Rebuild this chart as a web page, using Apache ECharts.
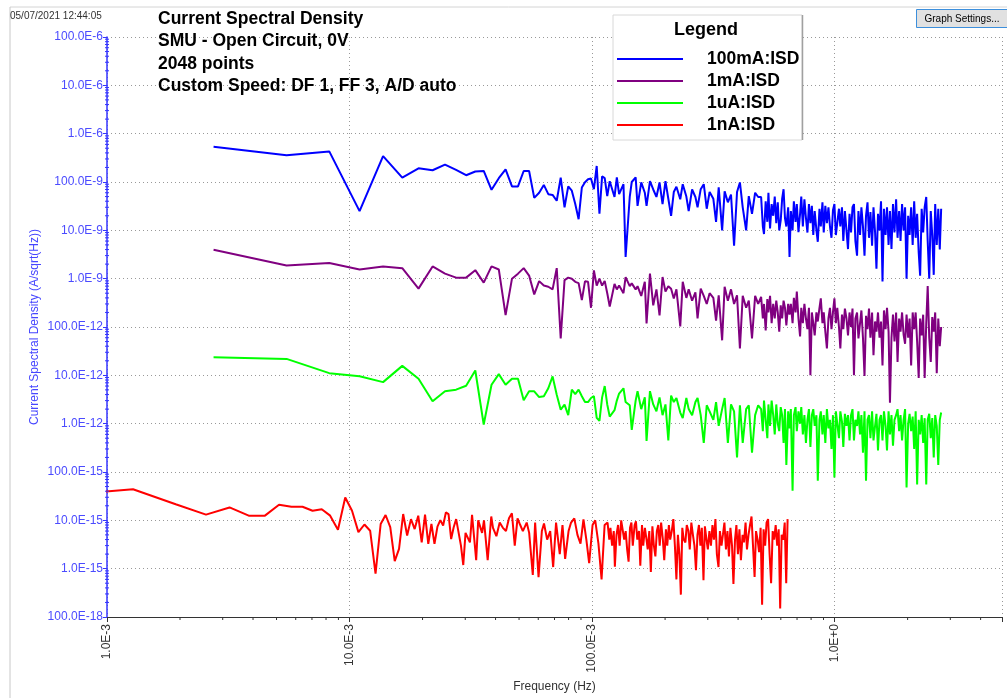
<!DOCTYPE html>
<html>
<head>
<meta charset="utf-8">
<title>Current Spectral Density</title>
<script src="https://cdn.jsdelivr.net/npm/echarts@6/dist/echarts.min.js"></script>
<style>
  html, body { margin: 0; padding: 0; background: #fff; }
  #chart { width: 1007px; height: 698px; }
</style>
</head>
<body>
<div id="chart"></div>
<script>
// FFT bin indices (shared by all four traces)
const bins = [
  1, 2, 3, 4, 5, 6, 7, 8, 9, 10, 11, 12, 13, 14, 15, 16, 17, 18, 19, 20,
  21, 22, 23, 24, 25, 26, 27, 28, 29, 30, 31, 32, 33, 34, 35, 36, 37, 38, 39, 40, 41,
  42, 43, 45, 46, 47, 49, 50, 52, 53, 55, 56, 58, 60, 61, 63, 65, 67, 69, 71, 73,
  75, 77, 79, 81, 84, 86, 89, 91, 94, 97, 99, 102, 105, 108, 111, 115, 118, 121, 125,
  128, 132, 136, 140, 144, 148, 152, 157, 161, 166, 171, 176,
  181, 184, 186, 189, 192, 194, 197, 200, 203, 206, 209, 212, 215, 218, 221, 224, 227, 230, 234, 237,
  240, 244, 247, 251, 254, 258, 262, 265, 269, 273, 277, 281, 285, 289, 293, 297, 301, 306, 310, 315,
  319, 324, 328, 333, 338, 343, 348, 353, 358, 363, 368, 373, 379, 384, 390, 395, 401, 407, 413, 419,
  425, 431, 437, 443, 450, 456, 463, 469, 476, 483, 490, 497, 504, 511, 519, 526, 534, 541, 549, 557,
  565, 573, 581, 590, 598, 607, 615, 624, 633, 642, 652, 661, 671, 680, 690, 700, 710, 720, 731, 741,
  752, 763, 774, 785, 796, 808, 819, 831, 843, 855, 868, 880, 893, 906, 919, 932, 945, 959, 973, 987,
  1000
];
const dfHigh = 2.75e-3;   // Hz per bin, 100mA / 1mA / 1uA ranges
const dfLow = 0.64e-3;    // Hz per bin, 1nA range

// 100mA:ISD in nA/sqrt(Hz)
const isd100mA = [
  537, 356, 430, 25, 344, 123, 192, 175, 229, 178, 138, 165, 169, 69, 120, 182, 81, 81, 169, 169,
  47, 60, 87, 56, 54, 41, 123, 30, 81, 66, 35, 17, 77, 99, 114, 118, 71, 215,
  22, 131, 120, 51, 104, 49, 125, 56, 90, 2.8, 49, 100, 125, 32, 98, 60, 32, 104, 70, 49,
  98, 35, 104, 45, 20, 62, 80, 44, 90, 50, 25, 70, 49, 30, 71, 90, 28, 62, 45, 15,
  78, 10, 64, 38, 55, 4.8, 62, 98, 30, 10, 51, 22, 60, 49,
  49, 12, 8.4, 40, 15, 60, 11, 35, 20, 50, 14, 38, 10, 16, 45, 71, 18, 12, 30, 2.8,
  25, 10, 40, 15, 35, 9.2, 22, 50, 12, 44, 18, 9, 35, 14, 32, 8, 25, 10, 5.8, 28,
  12, 38, 9, 32, 14, 30, 12, 7, 26, 35, 8, 7.7, 28, 12, 30, 6, 25, 10, 4.1, 22,
  9, 30, 35, 6, 3.0, 25, 8, 30, 12, 3.0, 20, 38, 7, 24, 4.8, 30, 9, 1.6, 22, 10,
  40, 0.87, 28, 8, 30, 5, 25, 4.1, 35, 9, 44, 7, 25, 6, 35, 10, 30, 1.0, 20, 8,
  30, 5, 40, 7, 22, 3.5, 1.15, 28, 9, 30, 49, 6, 1.0, 25, 8, 1.2, 35, 5, 28, 4,
  28
];
// 1mA:ISD in pA/sqrt(Hz)
const isd1mA = [
  3950, 1870, 2100, 1550, 1790, 1650, 622, 1790, 1270, 1050, 1050, 1500, 828, 1800, 1550, 176,
  1000, 1270, 1650, 1160, 473, 890, 720, 680, 600, 1650, 58, 930, 1050, 1000, 860, 810, 360,
  880, 860, 250, 1480, 720,
  1000, 720, 900, 500, 265, 780, 600, 720, 500, 1080, 700, 800, 600, 700, 440, 860, 118, 1270, 280, 600,
  173, 1080, 540, 700, 620, 390, 600, 103, 860, 400, 600, 350, 520, 150, 620, 440, 300, 500, 400, 136,
  450, 53, 680, 350, 600, 300, 450, 36, 440, 250, 350, 58, 440, 300,
  420, 150, 300, 85, 380, 200, 440, 120, 300, 150, 350, 200, 80, 280, 150, 350, 250, 108, 300, 180,
  300, 120, 400, 200, 540, 150, 64, 250, 120, 300, 150, 90, 250, 10, 200, 120, 67, 200, 130, 250,
  390, 120, 200, 80, 36, 150, 250, 90, 200, 390, 120, 250, 100, 36, 180, 90, 240, 150, 67, 200,
  100, 240, 10, 150, 200, 58, 120, 220, 60, 9.7, 170, 90, 240, 60, 200, 26, 130, 80, 200, 60,
  130, 16, 220, 90, 250, 80, 2.7, 60, 180, 50, 200, 19, 150, 80, 200, 70, 45, 180, 60, 150,
  16, 200, 90, 200, 50, 8.8, 150, 67, 180, 8.8, 120, 700, 60, 19, 160, 80, 200, 11, 150, 40,
  100
];
// 1uA:ISD in fA/sqrt(Hz)
const isd1uA = [
  23700, 21900, 11100, 9600, 7240, 15700, 8500, 2900, 4670, 5050, 6100, 12600, 960, 6400, 10600,
  6400, 8500, 8500, 3040, 4670, 4670, 3550, 3700, 5400, 9500, 3950, 1950, 2480, 1500, 5050,
  4100, 5050, 3700, 2800, 2800, 3400, 3700, 1320,
  1140, 3500, 6000, 2500, 1400, 1900, 3000, 4200, 5400, 2800, 2400, 740, 3000, 4700, 2000, 3500,
  440, 4700, 2500, 1800, 3500, 1500, 2500, 450, 3800, 2800, 3400, 1700, 1300, 3400,
  2000, 1500, 2800, 3400, 1500, 400, 2400, 1800, 1200, 2800, 900, 2000, 3400, 400, 2500, 1800,
  200, 2400, 400, 2000, 2400, 250, 1500, 2400,
  2000, 700, 3000, 1200, 500, 2500, 900, 3000, 1500, 600, 2500, 1000, 700, 2200, 1500, 400, 2000, 140, 1800, 800,
  2000, 41, 1500, 2200, 700, 1800, 1000, 2200, 600, 1500, 400, 1200, 2000, 330, 1500, 2000, 900, 1500, 66, 1200,
  1800, 600, 1500, 400, 2000, 800, 1200, 300, 1500, 77, 1800, 1000, 500, 1800, 1100, 330, 1600, 900, 1500, 450,
  1500, 2000, 450, 1200, 900, 1800, 600, 1500, 250, 1800, 66, 1200, 1500, 500, 1800, 450, 900, 1600, 280, 1200,
  1500, 450, 1800, 900, 280, 1800, 600, 1500, 350, 1200, 1500, 2000, 700, 1500, 450, 1200, 2000, 48, 1000, 1600,
  700, 1400, 300, 1800, 55, 1200, 600, 1500, 400, 1300, 55, 1200, 1600, 500, 1300, 200, 1500, 900, 140, 1200,
  1700
];
// 1nA:ISD in fA/sqrt(Hz)
const isd1nA = [
  33, 44, 21.5, 13.1, 18.5, 12.5, 12.5, 21, 19.1, 19.1, 15.8, 17, 12.5, 6.4, 29.7, 15.8, 5.7, 8.2, 6.1, 0.79,
  8.4, 12.9, 7.2, 1.43, 2.57, 13.5, 4.85, 10.6, 6.6, 12.5, 3.5, 13.1, 3.25, 8.4, 3.25, 7.4, 10.1, 7.8, 14.6, 13.5,
  4.1,
  7.2, 10.6, 3, 1.19, 5.5, 3.5, 13, 1.5, 10, 5.5, 10, 1.5, 12, 7, 4.7, 9, 7, 6, 11, 14,
  3, 11, 8, 6, 9, 5.5, 0.74, 9, 0.67, 6, 8.6, 4, 6, 1.08, 9, 2.0, 8, 1.6, 6, 9,
  11, 5, 3.3, 10.5, 4, 1.3, 8, 10, 3.3, 0.6, 8,
  9, 4, 7, 3, 6, 1.1, 5, 8, 3, 10, 10.6, 4, 6, 2.5, 1.4, 7, 9, 3, 8, 9.5,
  4, 6, 1.15, 8, 3, 7, 4, 2.5, 6, 0.85, 7.5, 3, 1.8, 6, 8, 3, 9, 4, 1.5, 6.5,
  3, 8, 4, 6, 10.6, 3, 0.6, 5, 2, 0.29, 7, 4, 3.5, 8, 6, 2.5, 9, 5, 3, 0.93,
  5, 8, 3, 7, 0.58, 7.5, 4, 2.5, 6, 3, 8, 4, 10.6, 2, 1.08, 6, 3, 5, 9, 2.5,
  6, 1.8, 7, 3, 0.48, 4, 8, 2, 6.5, 1.5, 5, 3.5, 9, 2.5, 5, 8, 12, 3, 0.67, 6,
  4, 2.2, 7, 0.18, 6.5, 3, 9, 10.6, 2, 0.5, 6, 4, 8, 3, 6.5, 0.15, 5, 4, 9, 0.5,
  10.6
];

const seriesNames = ['100mA:ISD', '1mA:ISD', '1uA:ISD', '1nA:ISD'];
const seriesColors = ['#0000ff', '#800080', '#00ff00', '#ff0000'];

const xMin = 1e-3, xMax = 4.9;
const yMin = 1e-16, yMax = 1e-4;
const xDecades = [1e-3, 1e-2, 1e-1, 1];
const yDecades = [1e-16, 1e-15, 1e-14, 1e-13, 1e-12, 1e-11, 1e-10, 1e-9, 1e-8, 1e-7, 1e-6, 1e-5];
const minorSteps = [2, 3, 4, 5, 6, 7, 8, 9];

const font = '"Liberation Sans", Arial, sans-serif';

function engLabel(v) {
	const lg = Math.log10(v);
	const e = Math.round(lg);
	if (Math.abs(lg - e) > 1e-6) return '';
	const eng = Math.floor(e / 3) * 3;
	const mant = Math.pow(10, e - eng).toFixed(1);
	return mant + 'E' + (eng >= 0 ? '+' + eng : eng);
}

function toPairs(values, df, unit) {
	return values.map((v, i) => [bins[i] * df, v * unit]);
}

const xMinor = [];
xDecades.forEach(d => minorSteps.forEach(m => { if (d * m < xMax) xMinor.push([d * m, yMin]); }));
const yMinor = [];
yDecades.forEach(d => minorSteps.forEach(m => yMinor.push([xMin, d * m])));

const chart = echarts.init(document.getElementById('chart'), null, { renderer: 'canvas' });

const lineSeries = [
	toPairs(isd100mA, dfHigh, 1e-9),
	toPairs(isd1mA, dfHigh, 1e-12),
	toPairs(isd1uA, dfHigh, 1e-15),
	toPairs(isd1nA, dfLow, 1e-15)
].map((data, i) => ({
	name: seriesNames[i],
	type: 'line',
	data: data,
	symbol: 'none',
	showSymbol: false,
	clip: true,
	z: 2,
	itemStyle: { color: seriesColors[i] },
	lineStyle: { color: seriesColors[i], width: 2 }
}));

const option = {
	animation: false,
	backgroundColor: '#fff',
	textStyle: { fontFamily: font },
	title: [
		{
			text: '05/07/2021 12:44:05',
			left: 10, top: 11, padding: 0,
			textStyle: { fontSize: 10, fontWeight: 'normal', color: '#333', fontFamily: font }
		},
		{
			text: 'Current Spectral Density\nSMU - Open Circuit, 0V\n2048 points\nCustom Speed: DF 1, FF 3, A/D auto',
			left: 158, top: 8, padding: 0,
			textStyle: { fontSize: 17.5, fontWeight: 'bold', lineHeight: 22.3, color: '#000', fontFamily: font }
		}
	],
	legend: {
		data: seriesNames,
		orient: 'vertical',
		left: 617, top: 48,
		padding: 0,
		itemGap: 0,
		itemWidth: 66,
		itemHeight: 2,
		icon: 'rect',
		selectedMode: false,
		z: 10,
		textStyle: {
			fontSize: 17.5, fontWeight: 'bold', color: '#000', fontFamily: font,
			lineHeight: 22, padding: [0, 0, 0, 19]
		}
	},
	graphic: [
		{ type: 'line', z: 1, shape: { x1: 10, y1: 7, x2: 1007, y2: 7 }, style: { stroke: '#d4d4d4', lineWidth: 1 } },
		{ type: 'line', z: 1, shape: { x1: 10, y1: 7, x2: 10, y2: 698 }, style: { stroke: '#c8c8c8', lineWidth: 1 } },
		{ type: 'rect', z: 8, shape: { x: 613, y: 15, width: 189, height: 125 }, style: { fill: '#fff', stroke: '#d8d8d8', lineWidth: 1 } },
		{ type: 'line', z: 9, shape: { x1: 802.5, y1: 15, x2: 802.5, y2: 140 }, style: { stroke: '#a0a0a0', lineWidth: 1.5 } },
		{
			type: 'text', z: 10, x: 706, y: 30,
			style: { text: 'Legend', fontSize: 18, fontWeight: 'bold', fontFamily: font, fill: '#000', align: 'center', verticalAlign: 'middle' }
		},
		{ type: 'rect', z: 8, shape: { x: 916.5, y: 9.5, width: 95, height: 18 }, style: { fill: '#e1e1e1', stroke: '#3c8fdc', lineWidth: 1 } },
		{
			type: 'text', z: 10, x: 962, y: 19,
			style: { text: 'Graph Settings...', fontSize: 10, fontFamily: font, fill: '#000', align: 'center', verticalAlign: 'middle' }
		}
	],
	grid: { left: 107, top: 37, right: 5, bottom: 78 },
	xAxis: {
		type: 'log',
		logBase: 10,
		min: xMin,
		max: xMax,
		interval: 1,
		name: 'Frequency (Hz)',
		nameLocation: 'middle',
		nameGap: 64,
		nameMoveOverlap: false,
		nameTextStyle: { fontSize: 12, color: '#333', fontFamily: font },
		axisLine: { show: true, lineStyle: { color: '#333', width: 1 } },
		axisTick: { show: true, length: 5, lineStyle: { color: '#333' } },
		axisLabel: { rotate: 90, margin: 7, fontSize: 12, color: '#333', fontFamily: font, formatter: engLabel },
		splitLine: { show: true, lineStyle: { color: '#999', type: [1, 3], width: 1 } }
	},
	yAxis: {
		type: 'log',
		logBase: 10,
		min: yMin,
		max: yMax,
		interval: 1,
		name: 'Current Spectral Density (A/sqrt(Hz))',
		nameLocation: 'middle',
		nameGap: 66,
		nameMoveOverlap: false,
		nameTextStyle: { fontSize: 12, color: '#4646ff', fontFamily: font },
		axisLine: { show: true, lineStyle: { color: '#3434ff', width: 1.5 } },
		axisTick: { show: true, length: 4, lineStyle: { color: '#3434ff' } },
		axisLabel: { margin: 4, fontSize: 12, color: '#4b4bff', fontFamily: font, formatter: engLabel },
		splitLine: { show: true, lineStyle: { color: '#999', type: [1, 3], width: 1 } }
	},
	series: lineSeries.concat([
		{
			name: 'xMinor',
			type: 'custom',
			silent: true,
			clip: false,
			z: 5,
			data: xMinor,
			renderItem: (params, api) => {
				const p = api.coord([api.value(0), api.value(1)]);
				return { type: 'line', shape: { x1: p[0], y1: p[1], x2: p[0], y2: p[1] + 3 }, style: { stroke: '#333', lineWidth: 1 } };
			}
		},
		{
			name: 'yMinor',
			type: 'custom',
			silent: true,
			clip: false,
			z: 5,
			data: yMinor,
			renderItem: (params, api) => {
				const p = api.coord([api.value(0), api.value(1)]);
				return { type: 'line', shape: { x1: p[0] - 2, y1: p[1], x2: p[0] + 2, y2: p[1] }, style: { stroke: '#3434ff', lineWidth: 1 } };
			}
		}
	])
};

chart.setOption(option);
</script>
</body>
</html>
